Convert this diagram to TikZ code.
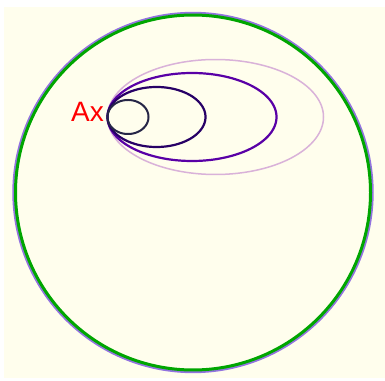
\documentclass[tikz,border=0pt]{standalone}
\usepackage{xcolor}
\usepackage{fontspec}
\setmainfont{Liberation Sans}
\colorlet{cream}{yellow!7!white}
\colorlet{ringgreen}{green!65!black}
\colorlet{ringpurple}{violet!45!blue!55!white}
\colorlet{orbitA}{blue!15!black!85!white}
\colorlet{orbitB}{blue!45!violet!55!black}
\colorlet{orbitC}{violet!70!blue}
\colorlet{orbitD}{violet!30!white}
\colorlet{labelred}{red}
\tikzstyle{loop}=[line join=round,smooth cycle,samples=181,variable=\t,domain=0:358]

\begin{document}
\begin{tikzpicture}[x=1pt,y=1pt]
  
  \def\cx{193}   % ring centre, x
  \def\cy{187.5} % ring centre, y
  \def\rim{177.5} % ring radius
  \def\xa{107.5}  % point A, x
  \def\ya{263}    % point A, y
  
  \useasboundingbox (0,0) rectangle (385,380);
  
  % BACKGROUND
  \fill[cream] (4,2) rectangle (385,373);
  
  % RING
  \draw[loop,ringpurple,line width=4pt]
    plot ({\cx+(\rim+1.2)*cos(\t)},{\cy+(\rim+1.2)*sin(\t)});
  \draw[loop,ringgreen,line width=3pt]
    plot ({\cx+\rim*cos(\t)},{\cy+\rim*sin(\t)});
  
  % ORBITS
  \coordinate (A) at (\xa,\ya);
  \foreach \rx/\ry/\col/\lw in {108/57.5/orbitD/1.5,84.5/44/orbitC/2.2,
                                 49/30/orbitB/2.2,20.5/17/orbitA/2}{
    \draw[loop,\col,line width=\lw pt]
      plot ({\xa+\rx+\rx*cos(\t)},{\ya+\ry*sin(\t)});
  }
  
  % LABEL
  \node[labelred,anchor=base west,inner sep=0pt,font=\fontsize{28}{28}\selectfont]
    (labelA) at (71,258) {Ax};
  
\end{tikzpicture}
\end{document}
